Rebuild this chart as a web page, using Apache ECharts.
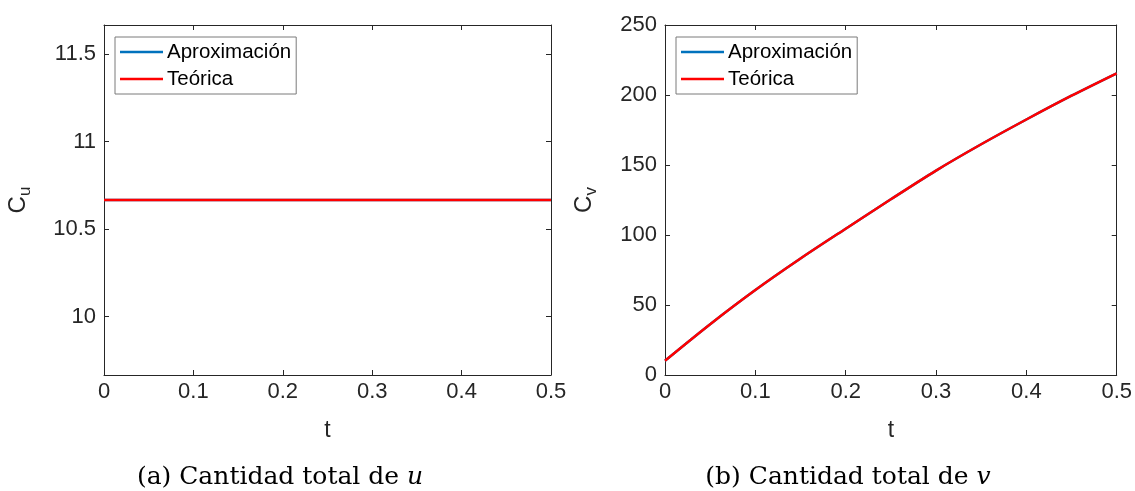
<!DOCTYPE html>
<html>
<head>
<meta charset="utf-8">
<script src="https://cdn.jsdelivr.net/npm/echarts@6/dist/echarts.min.js"></script>
<style>html,body{margin:0;padding:0;background:#fff}#c{width:1135px;height:491px}</style>
</head>
<body>
<div id="c"></div>
<script>
// ---- data ----
const tValues = [0, 0.05, 0.1, 0.15, 0.2, 0.25, 0.3, 0.35, 0.4, 0.45, 0.5];
const cuAprox = [10.6667, 10.6667, 10.6667, 10.6667, 10.6667, 10.6667, 10.6667, 10.6667, 10.6667, 10.6667, 10.6667];
const cuTeor  = [10.6667, 10.6667, 10.6667, 10.6667, 10.6667, 10.6667, 10.6667, 10.6667, 10.6667, 10.6667, 10.6667];
const cvAprox = [10.2, 36.3, 60.7, 83.2, 104.5, 125.5, 146, 164.8, 182.5, 199.5, 215.5];
const cvTeor  = [10.2, 36.3, 60.7, 83.2, 104.5, 125.5, 146, 164.8, 182.5, 199.5, 215.5];
const xTicks = [0, 0.1, 0.2, 0.3, 0.4, 0.5];
const cuTicks = [10, 10.5, 11, 11.5];
const cvTicks = [0, 50, 100, 150, 200, 250];
const seriesNames = ['Aproximación', 'Teórica'];
const captionA = ['(a) Cantidad total de ', 'u'];
const captionB = ['(b) Cantidad total de ', 'v'];

const pair = (xs, ys) => xs.map((x, i) => [x, ys[i]]);
const axCol = '#262626';
const sans = 'Liberation Sans, Arial, Helvetica, sans-serif';
const fs = 22;

function xAx(grid, top, ticks) {
  return {
    type: 'value', gridIndex: grid, position: top ? 'top' : 'bottom',
    min: 0, max: 0.5,
    name: top ? '' : 't', nameLocation: 'middle', nameGap: 44,
    nameTextStyle: {fontFamily: sans, fontSize: 23, color: axCol},
    axisLine: {show: true, onZero: false, lineStyle: {color: axCol, width: 1}},
    axisTick: {show: true, inside: true, length: 5, customValues: ticks, lineStyle: {color: axCol}},
    axisLabel: {show: !top, customValues: ticks, margin: 6, fontFamily: sans, fontSize: fs, color: axCol},
    splitLine: {show: false}
  };
}
function yAx(grid, right, mn, mx, ticks, nm, gap) {
  return {
    type: 'value', gridIndex: grid, position: right ? 'right' : 'left',
    min: mn, max: mx,
    name: right ? '' : '{c|C}{s|' + nm + '}', nameLocation: 'middle', nameGap: gap,
    nameTextStyle: {fontFamily: sans, color: axCol,
      rich: {c: {fontFamily: sans, fontSize: 24, color: axCol},
             s: {fontFamily: sans, fontSize: 17, color: axCol, padding: [14, 0, 0, 0]}}},
    axisLine: {show: true, onZero: false, lineStyle: {color: axCol, width: 1}},
    axisTick: {show: true, inside: true, length: 5, customValues: ticks, lineStyle: {color: axCol}},
    axisLabel: {show: !right, customValues: ticks, margin: 8, fontFamily: sans, fontSize: fs, color: axCol},
    splitLine: {show: false}
  };
}
function legend(left) {
  return {
    data: seriesNames, left: left, top: 37, orient: 'vertical',
    icon: 'rect', itemWidth: 43, itemHeight: 2.5, itemGap: 5,
    padding: [4, 5, 4, 5], borderColor: '#7a7a7a', borderWidth: 1,
    backgroundColor: '#fff',
    textStyle: {fontFamily: sans, fontSize: 20.5, color: '#000', lineHeight: 22, padding: [0, 0, 0, -1]}
  };
}
function ser(name, x, y, data, color) {
  return {name: name, type: 'line', xAxisIndex: x, yAxisIndex: y, data: data, smooth: 0.3,
    symbol: 'none', lineStyle: {width: 2.5, color: color}, itemStyle: {color: color}, z: 3};
}

const chart = echarts.init(document.getElementById('c'), null, {renderer: 'canvas'});
chart.setOption({
  animation: false,
  backgroundColor: '#fff',
  grid: [
    {left: 104, top: 25, width: 447, height: 350, show: false},
    {left: 665, top: 25, width: 453, height: 350, show: false}
  ],
  xAxis: [xAx(0, false, xTicks), xAx(0, true, xTicks), xAx(1, false, xTicks), xAx(1, true, xTicks)],
  yAxis: [
    yAx(0, false, 9.6667, 11.6667, cuTicks, 'u', 70), yAx(0, true, 9.6667, 11.6667, cuTicks, 'u', 0),
    yAx(1, false, 0, 250, cvTicks, 'v', 65), yAx(1, true, 0, 250, cvTicks, 'v', 0)
  ],
  legend: [legend(115), legend(676)],
  series: [
    ser(seriesNames[0], 0, 0, pair(tValues, cuAprox), '#0072BD'),
    ser(seriesNames[1], 0, 0, pair(tValues, cuTeor), '#FF0000'),
    ser(seriesNames[0], 2, 2, pair(tValues, cvAprox), '#0072BD'),
    ser(seriesNames[1], 2, 2, pair(tValues, cvTeor), '#FF0000')
  ],
  graphic: [
    {type: 'text', x: 280, y: 477, style: {
      text: '{n|' + captionA[0] + '}{i|' + captionA[1] + '}', align: 'center', verticalAlign: 'middle',
      rich: {n: {fontFamily: 'DejaVu Serif', fontSize: 25, fill: '#000'},
             i: {fontFamily: 'DejaVu Serif', fontStyle: 'italic', fontSize: 25, fill: '#000'}}}},
    {type: 'text', x: 848, y: 477, style: {
      text: '{n|' + captionB[0] + '}{i|' + captionB[1] + '}', align: 'center', verticalAlign: 'middle',
      rich: {n: {fontFamily: 'DejaVu Serif', fontSize: 25, fill: '#000'},
             i: {fontFamily: 'DejaVu Serif', fontStyle: 'italic', fontSize: 25, fill: '#000'}}}}
  ]
});
</script>
</body>
</html>
